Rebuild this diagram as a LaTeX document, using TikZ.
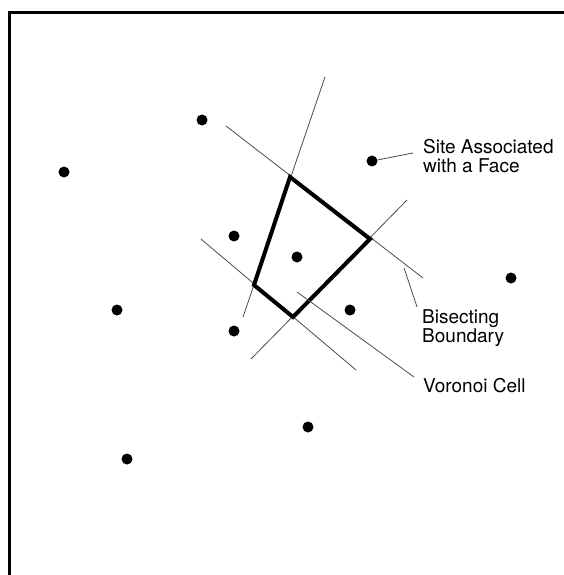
\documentclass[tikz,border=0pt]{standalone}
\usepackage{fontspec}
\setmainfont{TeX Gyre Heros}
\begin{document}
\begin{tikzpicture}[x=1pt,y=-1pt,
  site/.style={circle,fill=black,inner sep=0pt,minimum size=11pt},
  thinline/.style={draw=black!70,line width=0.8pt},
  cellline/.style={draw=black,line width=4pt,line join=miter},
  frameline/.style={draw=black,line width=3pt,line join=miter},
  lab/.style={anchor=north west,inner sep=0pt,align=left,font=\fontsize{19}{19}\selectfont}]
\useasboundingbox (0,0) rectangle (563,575);
% frame (top and left edges visible)
\coordinate (f1) at (9,578);
\coordinate (f2) at (9,13);
\coordinate (f3) at (566,13);
\draw[frameline] (f1) -- (f2) -- (f3);
% sites
\node[site] (s1) at (202,120) {};
\node[site] (s2) at (64,172) {};
\node[site] (s3) at (372,161) {};
\node[site] (s4) at (234,236) {};
\node[site] (s5) at (297,257) {};
\node[site] (s6) at (511,278) {};
\node[site] (s7) at (117,310) {};
\node[site] (s8) at (350,310) {};
\node[site] (s9) at (234,331) {};
\node[site] (s10) at (308,427) {};
\node[site] (s11) at (127,459) {};
% bisecting lines
\coordinate (a1) at (325,77);  \coordinate (a2) at (243,317);
\coordinate (b1) at (226,126); \coordinate (b2) at (423,278);
\coordinate (c1) at (407,200); \coordinate (c2) at (251,359);
\coordinate (d1) at (201,239); \coordinate (d2) at (356,370);
\draw[thinline] (a1) -- (a2);
\draw[thinline] (b1) -- (b2);
\draw[thinline] (c1) -- (c2);
\draw[thinline] (d1) -- (d2);
% Voronoi cell
\coordinate (vt) at (290,177);
\coordinate (vr) at (370,239);
\coordinate (vb) at (293,317);
\coordinate (vl) at (254,285);
\draw[cellline] (vt) -- (vr) -- (vb) -- (vl) -- cycle;
% labels
\node[lab] (lsite) at (423,139) {Site Associated\\with a Face};
\node[lab] (lbis) at (422,309) {Bisecting\\Boundary};
\node[lab] (lcell) at (423,378) {Voronoi Cell};
% leaders
\coordinate (e1) at (413,153);
\coordinate (e2a) at (404,268); \coordinate (e2) at (417,307);
\coordinate (e3a) at (297,292); \coordinate (e3) at (414,377);
\draw[thinline] (s3) -- (e1);
\draw[thinline] (e2a) -- (e2);
\draw[thinline] (e3a) -- (e3);
\end{tikzpicture}
\end{document}
